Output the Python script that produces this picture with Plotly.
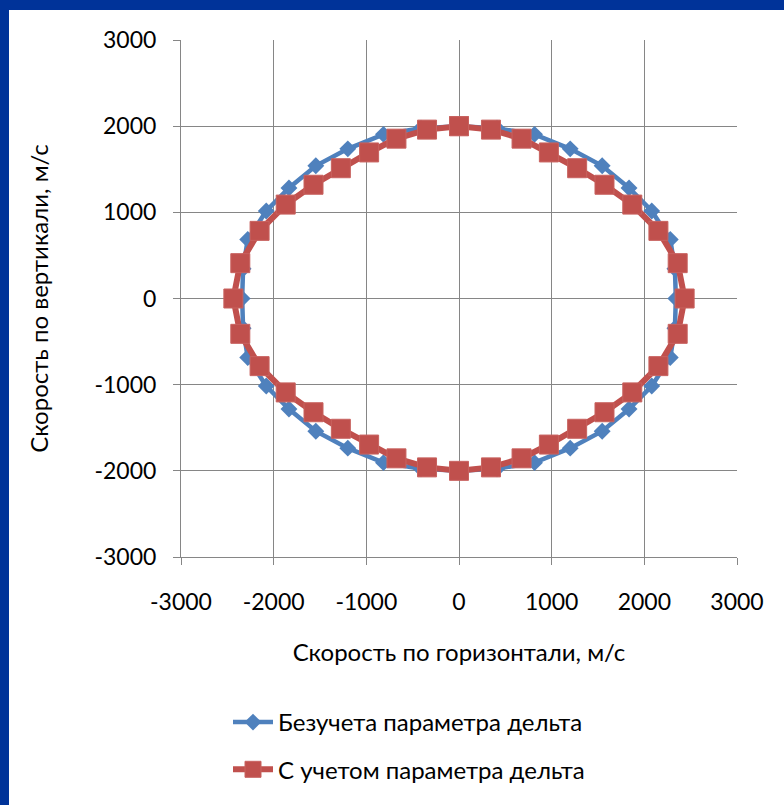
import plotly.graph_objects as go

# Blue series: "Безучета параметра дельта" (closed loop, clockwise from top)
blue_x = [0, 410, 815, 1200, 1545, 1835, 2080, 2280, 2330, 2340,
          2330, 2280, 2080, 1835, 1545, 1200, 815, 410,
          0, -410, -815, -1200, -1545, -1835, -2080, -2280, -2330, -2340,
          -2330, -2280, -2080, -1835, -1545, -1200, -815, -410, 0]
blue_y = [2000, 1975, 1905, 1737, 1540, 1283, 1015, 685, 345, 0,
          -345, -685, -1015, -1283, -1540, -1737, -1905, -1975,
          -2000, -1975, -1905, -1737, -1540, -1283, -1015, -685, -345, 0,
          345, 685, 1015, 1283, 1540, 1737, 1905, 1975, 2000]

# Red series: "С учетом параметра дельта"
red_x = [0, 345, 675, 970, 1275, 1570, 1870, 2152, 2360, 2435,
         2360, 2152, 1870, 1570, 1275, 970, 675, 345,
         0, -345, -675, -970, -1275, -1570, -1870, -2152, -2360, -2435,
         -2360, -2152, -1870, -1570, -1275, -970, -675, -345, 0]
red_y = [2000, 1960, 1855, 1695, 1512, 1320, 1090, 785, 410, 0,
         -410, -785, -1090, -1320, -1512, -1695, -1855, -1960,
         -2000, -1960, -1855, -1695, -1512, -1320, -1090, -785, -410, 0,
         410, 785, 1090, 1320, 1512, 1695, 1855, 1960, 2000]

tick_vals = [-3000, -2000, -1000, 0, 1000, 2000, 3000]
tick_text = ["-3000", "-2000", "-1000", "0", "1000", "2000", "3000"]

FONT = "Lato"
W, H = 784, 805
L, R, T, B = 181, 47, 40, 248
pw, ph = W - L - R, H - T - B

def px2x(p):
    return (p - L) / pw

def py2y(p):
    return (H - B - p) / ph

fig = go.Figure()
fig.add_trace(go.Scatter(
    x=blue_x, y=blue_y, mode="lines+markers",
    name="Безучета параметра дельта",
    line=dict(color="#4F81BD", width=4.5),
    marker=dict(symbol="diamond", size=13, color="#4F81BD"),
    legendgroup="a",
))
fig.add_trace(go.Scatter(
    x=red_x, y=red_y, mode="lines+markers",
    name="С учетом параметра дельта",
    line=dict(color="#C0504D", width=6),
    marker=dict(symbol="square", size=19, color="#C0504D",
                line=dict(color="#C8625F", width=1)),
    legendgroup="b",
))

axis_common = dict(
    range=[-3000, 3000], tickvals=tick_vals, ticktext=tick_text,
    showgrid=True, gridcolor="#868686", gridwidth=1,
    showline=True, linecolor="#868686", linewidth=1, mirror=False,
    ticks="outside", ticklen=7, tickcolor="#868686",
    zeroline=False, tickfont=dict(family=FONT, size=23, color="black"),
)

fig.update_xaxes(**axis_common, ticklabelstandoff=17,
                 title=dict(text="Скорость по горизонтали, м/с",
                            font=dict(family=FONT, size=24, color="black"),
                            standoff=30))
fig.update_yaxes(**axis_common, ticklabelstandoff=12,
                 title=dict(text="Скорость по вертикали, м/с",
                            font=dict(family=FONT, size=24, color="black"),
                            standoff=39))

fig.update_layout(
    width=W, height=H,
    margin=dict(l=L, r=R, t=T, b=B),
    paper_bgcolor="white", plot_bgcolor="white",
    font=dict(family=FONT, size=24, color="black"),
    showlegend=True,
    legend=dict(
        x=px2x(228), y=py2y(700), xanchor="left", yanchor="top",
        traceorder="grouped", tracegroupgap=13, itemwidth=40,
        font=dict(family=FONT, size=24, color="black"),
        bgcolor="rgba(0,0,0,0)",
    ),
    shapes=[
        dict(type="rect", xref="paper", yref="paper",
             x0=px2x(0), x1=px2x(9), y0=py2y(H), y1=py2y(0),
             fillcolor="#003399", line=dict(width=0), layer="above"),
        dict(type="rect", xref="paper", yref="paper",
             x0=px2x(0), x1=px2x(W), y0=py2y(10), y1=py2y(0),
             fillcolor="#003399", line=dict(width=0), layer="above"),
    ],
)

fig.write_html(
    "out.html",
    config={"displayModeBar": False},
    post_script="document.body.style.margin='0';document.body.style.padding='0';"
                "document.documentElement.style.overflow='hidden';",
)
